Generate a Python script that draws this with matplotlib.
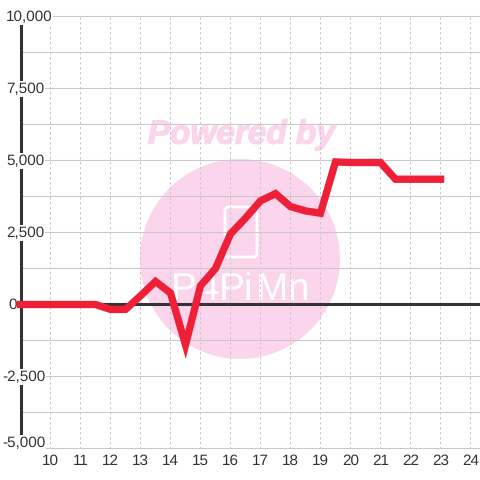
import matplotlib
matplotlib.use('Agg')
import matplotlib.pyplot as plt
import matplotlib.patheffects as pe
from matplotlib.patches import Ellipse, FancyBboxPatch

hours = [9, 9.5, 10, 10.5, 11, 11.5, 12, 12.5, 13, 13.5, 14, 14.5, 15, 15.5, 16,
         16.5, 17, 17.5, 18, 18.5, 19, 19.5, 20, 20.5, 21, 21.5, 22, 22.5, 23]
profit = [0, 0, 0, 0, 0, 0, -170, -170, 300, 800, 400, -1400, 650, 1250, 2450,
          3000, 3600, 3850, 3400, 3250, 3170, 4950, 4930, 4930, 4930, 4350, 4350, 4350, 4350]
x_ticks = list(range(10, 25))
y_major = [-5000, -2500, 0, 2500, 5000, 7500, 10000]
y_minor = [-3750, -1250, 1250, 3750, 6250, 8750]
y_labels = ['-5,000', '-2,500', '0', '2,500', '5,000', '7,500', '10,000']

W = 480
TEXT = '#333333'
GRID = '#c8c8c8'
PINK = '#fbd5ec'
plt.rcParams['font.family'] = ['Liberation Sans', 'DejaVu Sans']
plt.rcParams['text.hinting'] = 'none'


def fx(px):
    return px / W


def fy(px):
    return 1 - px / W


fig = plt.figure(figsize=(4.8, 4.8), dpi=100)
ax = fig.add_axes([fx(20.5), fy(448.5), 1 - fx(20.5), fy(16.5) - fy(448.5)])
ax.set_facecolor('none')
ax.set_xlim(9, 24.317)
ax.set_ylim(-5000, 10000)

# watermark sits behind the axes
fig.add_artist(Ellipse((fx(240), fy(259)), 200 / W, 200 / W, transform=fig.transFigure,
                       fc=PINK, ec='none', zorder=-3))
fig.add_artist(FancyBboxPatch((fx(225), fy(257)), 32 / W, 50 / W, boxstyle='round,pad=0,rounding_size=0.008',
                              transform=fig.transFigure, fc='none', ec='white', lw=2, zorder=-2))
fig.text(fx(241.5), fy(135), 'Powered by', color=PINK, fontsize=24, fontweight='bold', style='italic',
         ha='center', va='center', zorder=-2,
         path_effects=[pe.withStroke(linewidth=1, foreground=PINK)])
for letter, px in zip('P4PiMn', [184, 208, 232, 248, 272, 298]):
    fig.text(fx(px), fy(290), letter, color='white', fontsize=28, ha='center', va='center',
             family=['Liberation Sans Narrow', 'Liberation Sans'], zorder=-2)

ax.set_xticks(x_ticks)
ax.set_yticks(y_major)
ax.set_yticks(y_minor, minor=True)
ax.set_yticklabels([])
ax.tick_params(which='both', length=0)
ax.tick_params(axis='x', labelsize=11, labelcolor=TEXT, pad=4)
ax.set_axisbelow(True)
ax.grid(True, axis='x', color=GRID, lw=0.72, ls=(0, (2.5, 2.5)))
ax.grid(True, axis='y', which='both', color=GRID, lw=0.75)
for line in ax.get_ygridlines():
    line.set_clip_on(False)

for side in ['top', 'right', 'bottom']:
    ax.spines[side].set_visible(False)
ax.spines['left'].set_linewidth(2.2)
ax.spines['left'].set_color(TEXT)
ax.axhline(0, color=TEXT, lw=2.2, zorder=2)

ax.plot(hours, profit, color='#ee2038', lw=5.3, solid_capstyle='projecting',
        solid_joinstyle='miter', zorder=3, clip_on=False)

trans = ax.get_yaxis_transform()
for val, lab in zip(y_major, y_labels):
    left = 2 if val < 0 else (8 if val == 0 else 6)
    y = -5000 + 6.5 * 2500 / 72 if val == -5000 else val
    ax.text((left - 20.5) / (W - 20.5), y - 25, lab, transform=trans, ha='left', va='center', fontsize=11,
            color=TEXT, clip_on=False, zorder=10,
            bbox=dict(fc='white', ec='none', pad=0.5))

fig.savefig('out.png', dpi=100, facecolor='white')
